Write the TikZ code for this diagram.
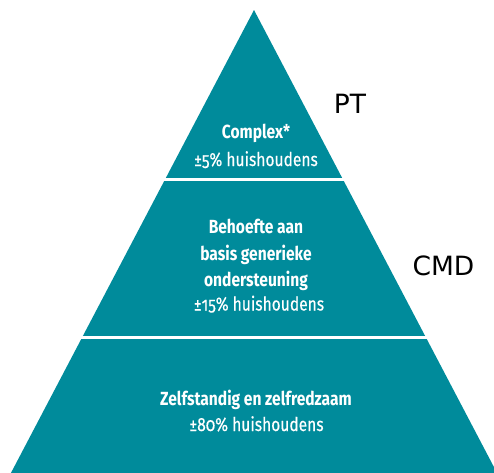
\documentclass[tikz,border=0pt]{standalone}
\usepackage{fontspec}
\setmainfont{DejaVu Sans}
\newfontfamily\pyrfont[Numbers=OldStyle,FakeStretch=0.82]{Fira Sans}
\newfontfamily\pyrfontm[Numbers=OldStyle,FakeStretch=0.82,FakeBold=0.4]{Fira Sans}
\definecolor{pyrteal}{RGB}{0,139,155}
\begin{document}
\begin{tikzpicture}[x=1pt,y=-1pt,
  lbl/.style={text=white,anchor=base,inner sep=0pt},
  lblb/.style={lbl,font=\pyrfont\bfseries\fontsize{19}{19}\selectfont},
  lblr/.style={lbl,font=\pyrfontm\fontsize{19}{19}\selectfont},
  side/.style={anchor=base,inner sep=0pt,text=black,font=\fontsize{26.5}{26.5}\selectfont}]
\useasboundingbox (0,0) rectangle (494,472);
\clip (0,0) rectangle (494,472);
\fill[pyrteal] (254,10) -- (500.75,480) -- (7.25,480) -- cycle;
\draw[white,line width=3pt] (0,179) -- (494,179);
\draw[white,line width=3pt] (0,337) -- (494,337);
% top
\node[lblb] (t1) at (256,138.3) {Complex*};
\node[lblr] (t2) at (256,166) {±5\% huishoudens};
% middle
\node[lblb] (m1) at (256,233.3) {Behoefte aan};
\node[lblb] (m2) at (256,260.7) {basis generieke};
\node[lblb] (m3) at (256,286.7) {ondersteuning};
\node[lblr] (m4) at (259,310.5) {±15\% huishoudens};
% bottom
\node[lblb] (b1) at (256,405) {Zelfstandig en zelfredzaam};
\node[lblr] (b2) at (256.5,431) {±80\% huishoudens};
% side labels
\node[side] (pt) at (350,113.3) {PT};
\node[side] (cmd) at (443.5,275) {CMD};
\end{tikzpicture}
\end{document}
